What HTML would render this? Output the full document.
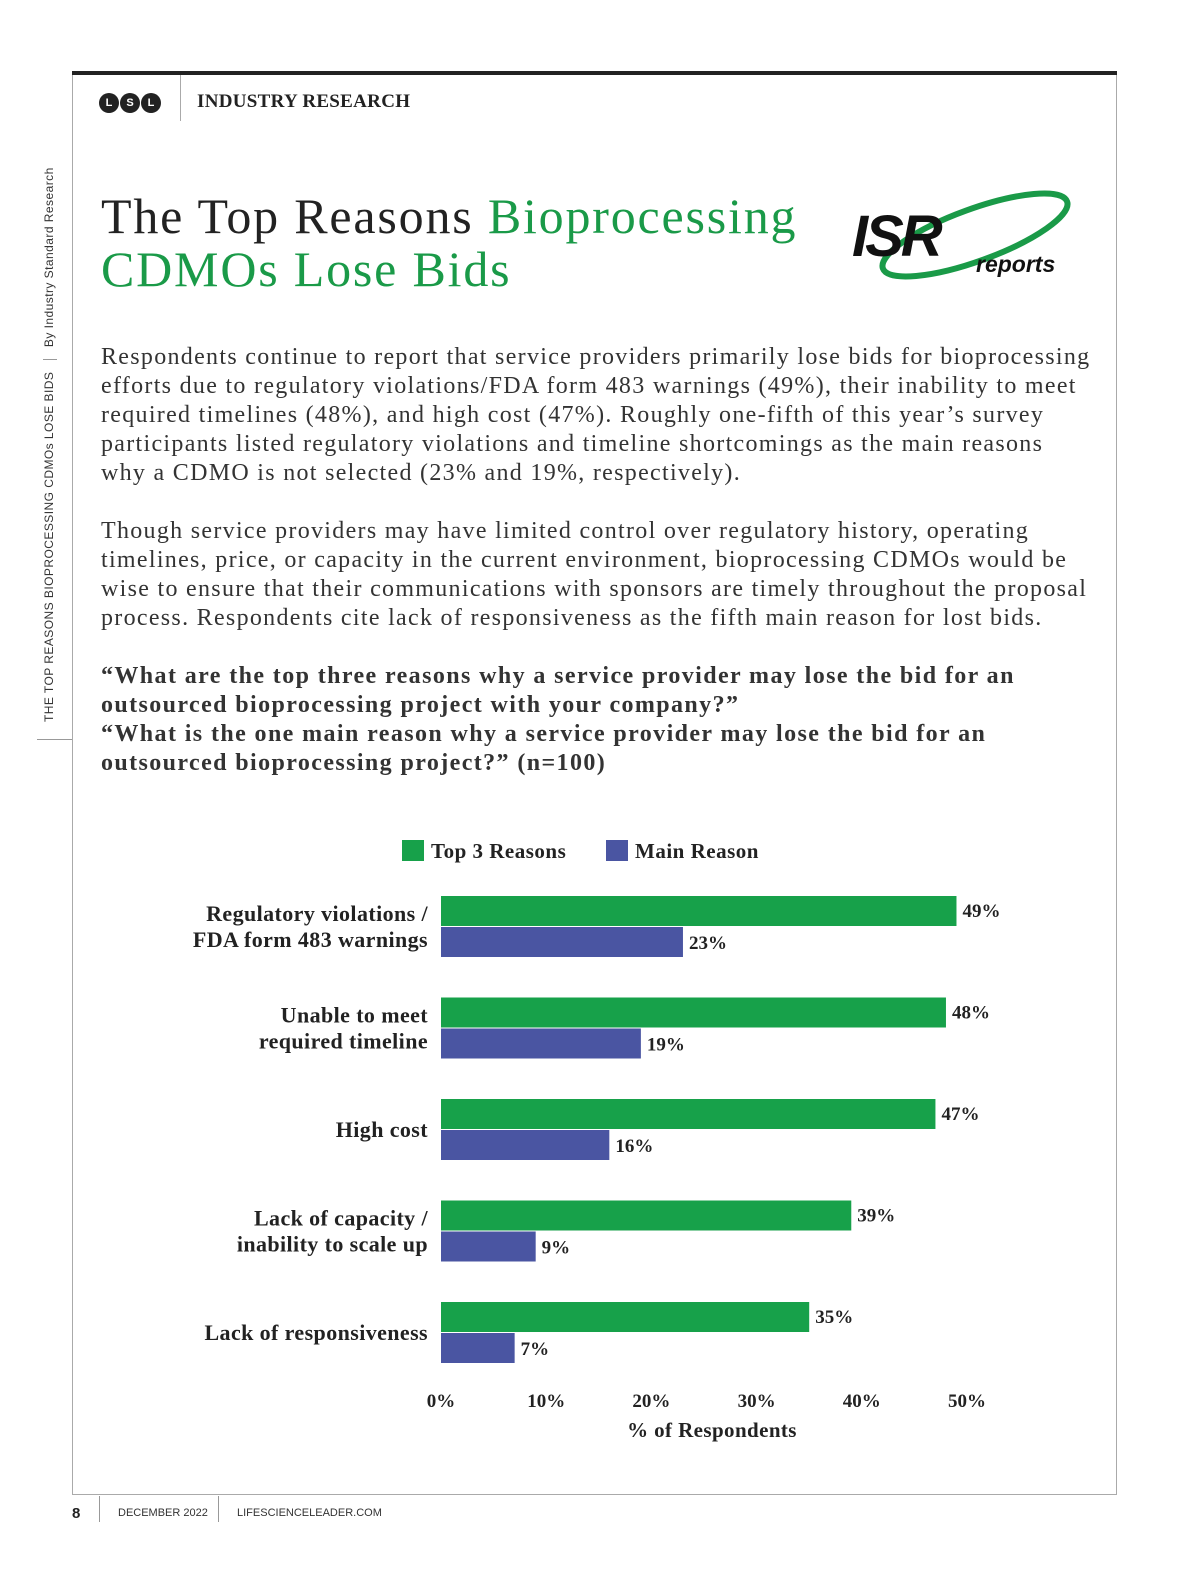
<!DOCTYPE html>
<html><head><meta charset="utf-8"><style>
body{margin:0;width:1200px;height:1582px;background:#fff;position:relative;font-family:"Liberation Serif",serif;color:#222;overflow:hidden}
.a{position:absolute}
.ln{white-space:nowrap}
</style></head><body>
<div class="a" style="left:72px;top:71px;width:1045px;height:4px;background:#222"></div>
<div class="a" style="left:72px;top:75px;width:1043px;height:1419px;border:1px solid #aaa;border-top:none"></div>
<div class="a" style="left:99px;top:93px;display:flex;gap:1px">
<span style="width:20px;height:20px;border-radius:50%;background:#222;color:#fff;font:bold 11px 'Liberation Sans';display:flex;align-items:center;justify-content:center">L</span>
<span style="width:20px;height:20px;border-radius:50%;background:#222;color:#fff;font:bold 11px 'Liberation Sans';display:flex;align-items:center;justify-content:center">S</span>
<span style="width:20px;height:20px;border-radius:50%;background:#222;color:#fff;font:bold 11px 'Liberation Sans';display:flex;align-items:center;justify-content:center">L</span></div>
<div class="a" style="left:180px;top:75px;width:1px;height:46px;background:#aaa"></div>
<div class="a" style="left:197px;top:91px;font-weight:bold;font-size:19px;letter-spacing:0.3px">INDUSTRY RESEARCH</div>
<div class="a" style="left:42px;top:722px;transform-origin:0 0;transform:rotate(-90deg);font:12px 'Liberation Sans';white-space:nowrap;letter-spacing:0.45px;color:#333">THE TOP REASONS BIOPROCESSING CDMOs LOSE BIDS <span style="display:inline-block;width:1px;height:14px;background:#999;margin:0 8px;vertical-align:middle"></span> By Industry Standard Research</div>
<div class="a" style="left:37px;top:739px;width:35px;height:1px;background:#999"></div>
<div class="a" style="left:101px;top:190px;font-size:50px;line-height:53px;letter-spacing:1.8px;color:#222;white-space:nowrap">The Top Reasons <span style="color:#1a9a48">Bioprocessing</span><br><span style="color:#1a9a48">CDMOs Lose Bids</span></div>
<svg class="a" style="left:850px;top:190px" width="240" height="100">
<ellipse cx="125" cy="45" rx="98" ry="26" transform="rotate(-20 125 45)" fill="none" stroke="#1a9a48" stroke-width="6"/>
<text x="2" y="66" font-family="Liberation Sans" font-weight="bold" font-style="italic" font-size="58" fill="#111" letter-spacing="-3">ISR</text>
<text x="126" y="82" font-family="Liberation Sans" font-weight="bold" font-style="italic" font-size="23" fill="#111">reports</text></svg>
<div class="a" style="left:101px;top:343px;font-size:24px;line-height:29px;letter-spacing:1.3px;color:#333">
<div class="ln">Respondents continue to report that service providers primarily lose bids for bioprocessing</div>
<div class="ln">efforts due to regulatory violations/FDA form 483 warnings (49%), their inability to meet</div>
<div class="ln">required timelines (48%), and high cost (47%). Roughly one-fifth of this year’s survey</div>
<div class="ln">participants listed regulatory violations and timeline shortcomings as the main reasons</div>
<div class="ln">why a CDMO is not selected (23% and 19%, respectively).</div>
<div style="height:29px"></div>
<div class="ln">Though service providers may have limited control over regulatory history, operating</div>
<div class="ln">timelines, price, or capacity in the current environment, bioprocessing CDMOs would be</div>
<div class="ln">wise to ensure that their communications with sponsors are timely throughout the proposal</div>
<div class="ln">process. Respondents cite lack of responsiveness as the fifth main reason for lost bids.</div>
</div>
<div class="a" style="left:101px;top:662px;font-size:24px;line-height:29px;font-weight:bold;letter-spacing:1.4px;color:#333">
<div class="ln">“What are the top three reasons why a service provider may lose the bid for an</div>
<div class="ln">outsourced bioprocessing project with your company?”</div>
<div class="ln">“What is the one main reason why a service provider may lose the bid for an</div>
<div class="ln">outsourced bioprocessing project?” (n=100)</div>
</div>
<svg id="chart" class="a" style="left:0;top:820px" width="1200" height="640"></svg>
<div class="a" style="left:99px;top:1496px;width:1px;height:26px;background:#999"></div>
<div class="a" style="left:218px;top:1496px;width:1px;height:26px;background:#999"></div>
<div class="a" style="left:72px;top:1505px;font:bold 15px 'Liberation Sans'">8</div>
<div class="a" style="left:118px;top:1507px;font:11px 'Liberation Sans';color:#333">DECEMBER 2022</div>
<div class="a" style="left:237px;top:1507px;font:11px 'Liberation Sans';color:#333">LIFESCIENCELEADER.COM</div>
<script>
const categories=[["Regulatory violations /","FDA form 483 warnings"],["Unable to meet","required timeline"],["High cost"],["Lack of capacity /","inability to scale up"],["Lack of responsiveness"]];
const top3=[49,48,47,39,35];
const mainReason=[23,19,16,9,7];
const ticks=[0,10,20,30,40,50];
const svg=document.getElementById('chart');const NS='http://www.w3.org/2000/svg';
const x=v=>441+v*10.52;const gy=i=>76+i*101.5;
function el(t,a,txt){const e=document.createElementNS(NS,t);for(const k in a)e.setAttribute(k,a[k]);if(txt!==undefined)e.textContent=txt;svg.appendChild(e);return e;}
const F='font-family:"Liberation Serif",serif;font-weight:bold;fill:#222';
let e=el('rect',{x:402,y:20,width:22,height:21,fill:'#17a14a'});
e=el('text',{x:431,y:38,style:F+';font-size:21px','letter-spacing':'0.5'},'Top 3 Reasons');
e=el('rect',{x:606,y:20,width:22,height:21,fill:'#4a55a2'});
e=el('text',{x:635,y:38,style:F+';font-size:21px','letter-spacing':'0.5'},'Main Reason');
categories.forEach((c,i)=>{
 const y=gy(i);
 e=el('rect',{x:x(0),y:y,width:x(top3[i])-x(0),height:30,fill:'#17a14a'});
 
 e=el('rect',{x:x(0),y:y+31,width:x(mainReason[i])-x(0),height:30,fill:'#4a55a2'});
 
 e=el('text',{x:x(top3[i])+6,y:y+21,style:F+';font-size:19px'},top3[i]+'%');
 
 e=el('text',{x:x(mainReason[i])+6,y:y+53,style:F+';font-size:19px'},mainReason[i]+'%');
 
 const cy=y+31, n=c.length;
 c.forEach((l,j)=>{e=el('text',{x:428,y:cy+7+(j-(n-1)/2)*26,'text-anchor':'end',style:F+';font-size:22px','letter-spacing':'0.4'},l);
 });
});
ticks.forEach(t=>{e=el('text',{x:x(t),y:587,'text-anchor':'middle',style:F+';font-size:19px'},t+'%');
 });
e=el('text',{x:712,y:617,'text-anchor':'middle',style:F+';font-size:21px','letter-spacing':'0.4'},'% of Respondents');

</script>
</body></html>
